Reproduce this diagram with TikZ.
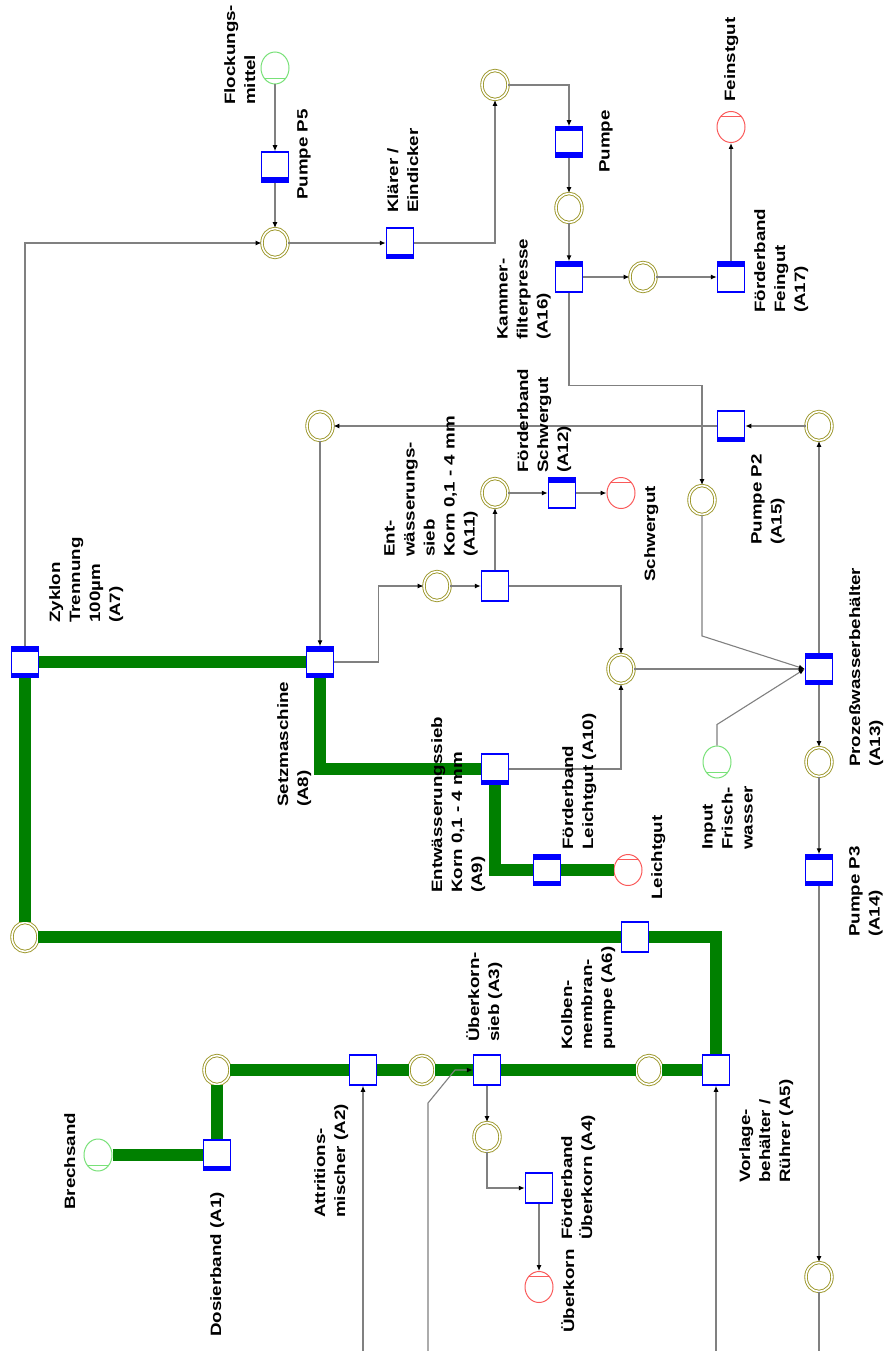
\documentclass[tikz,border=0pt]{standalone}
\usepackage{fontspec}
\setmainfont{Liberation Sans}[FakeStretch=1.25]
\usetikzlibrary{shapes.geometric,arrows.meta}
\definecolor{olv}{RGB}{155,150,40}
\definecolor{gin}{RGB}{120,225,120}
\definecolor{rout}{RGB}{250,90,90}
\definecolor{grn}{RGB}{0,128,0}
\definecolor{bl}{RGB}{0,0,255}
\definecolor{ln}{RGB}{128,128,128}
\begin{document}
\begin{tikzpicture}[x=1pt,y=-1pt,
  trans/.style={rectangle,draw=bl,line width=1.5pt,fill=white,minimum width=27pt,minimum height=30pt,inner sep=0pt},
  tb/.style={path picture={\fill[bl] (path picture bounding box.south west) rectangle ([yshift=4.5pt]path picture bounding box.south east);}},
  tt/.style={path picture={\fill[bl] (path picture bounding box.north west) rectangle ([yshift=-4.5pt]path picture bounding box.north east);}},
  tbt/.style={path picture={\fill[bl] (path picture bounding box.south west) rectangle ([yshift=4.5pt]path picture bounding box.south east);
      \fill[bl] (path picture bounding box.north west) rectangle ([yshift=-4.5pt]path picture bounding box.north east);}},
  place/.style={ellipse,draw=olv,double=white,double distance=1.6pt,line width=0.9pt,minimum width=26pt,minimum height=29pt,inner sep=0pt},
  inp/.style={ellipse,draw=gin,line width=1pt,fill=white,minimum width=28pt,minimum height=32pt,inner sep=0pt,
      path picture={\draw[gin,line width=0.8pt] ([yshift=6pt]path picture bounding box.south west) -- ([yshift=6pt]path picture bounding box.south east);}},
  outp/.style={ellipse,draw=rout,line width=1pt,fill=white,minimum width=28pt,minimum height=31pt,inner sep=0pt,
      path picture={\draw[rout,line width=0.8pt] ([yshift=-5pt]path picture bounding box.north west) -- ([yshift=-5pt]path picture bounding box.north east);}},
  flow/.style={draw=ln,line width=1.1pt,-{Latex[length=6pt,width=5pt,color=black]}},
  plain/.style={draw=ln,line width=1.1pt},
  gflow/.style={draw=grn,line width=12pt},
  lbl/.style={rotate=90,anchor=north west,align=left,inner sep=0pt,font=\bfseries\fontsize{15}{20}\selectfont}
]
\useasboundingbox (0,0) rectangle (888,1351);

% ---------- nodes ----------
\node[inp] (brech) at (98,1155) {};
\node[trans,tb] (A1) at (217,1155) {};
\node[place] (p1) at (217,1070) {};
\node[trans] (A2) at (363,1070) {};
\node[place] (p2) at (422,1070) {};
\node[trans] (A3) at (487,1070) {};
\node[place] (p3) at (649,1070) {};
\node[trans] (A5) at (716,1070) {};
\node[place] (p4) at (487,1137) {};
\node[trans] (A4) at (539,1188) {};
\node[outp] (uberk) at (539,1287) {};
\node[place] (p5) at (819,1277) {};
\node[trans] (A6) at (635,937) {};
\node[place] (p6) at (25,937) {};
\node[trans,tbt] (A7) at (25,662) {};
\node[trans,tbt] (A8) at (320,662) {};
\node[trans,tb] (A9) at (495,769) {};
\node[trans,tbt] (A10) at (547,870) {};
\node[outp] (leicht) at (628,870) {};
\node[place] (p7) at (437,586) {};
\node[trans] (A11) at (495,586) {};
\node[place] (p8) at (495,493) {};
\node[trans,tt] (A12) at (562,493) {};
\node[outp] (schwer) at (621,493) {};
\node[place] (p9) at (621,669) {};
\node[trans,tbt] (A13) at (819,669) {};
\node[inp] (frisch) at (717,762) {};
\node[place] (p10) at (819,762) {};
\node[trans,tbt] (A14) at (819,870) {};
\node[place] (p11) at (819,426) {};
\node[trans,tb] (A15) at (731,426) {};
\node[place] (p12) at (320,426) {};
\node[place] (p13) at (702,500) {};
\node[trans,tt] (A16) at (569,277) {};
\node[place] (p17) at (643,277) {};
\node[trans,tt] (A17) at (731,277) {};
\node[outp] (feinst) at (731,127) {};
\node[place] (p16) at (569,208) {};
\node[trans,tbt] (pump) at (569,142) {};
\node[place] (p15) at (495,85) {};
\node[trans,tb] (klaer) at (400,243) {};
\node[place] (p14) at (275,243) {};
\node[trans,tb] (P5) at (275,167) {};
\node[inp] (flock) at (275,68) {};

\coordinate (b1) at (363,1351);
\coordinate (b2) at (428,1351);
\coordinate (b3) at (716,1351);
\coordinate (b4) at (819,1351);

% ---------- green main flow ----------
\draw[gflow] (brech) -- (A1);
\draw[gflow] (A1) -- (p1);
\draw[gflow] (p1) -- (A2);
\draw[gflow] (A2) -- (p2);
\draw[gflow] (p2) -- (A3);
\draw[gflow] (A3) -- (p3);
\draw[gflow] (p3) -- (A5);
\draw[gflow] (A5.north) -- (A5.north |- A6.east) -- (A6.east);
\draw[gflow] (A6) -- (p6);
\draw[gflow] (p6) -- (A7);
\draw[gflow] (A7) -- (A8);
\draw[gflow] (A8.south) |- (A9.west);
\draw[gflow] (A9.south) |- (A10.west);
\draw[gflow] (A10) -- (leicht);

% ---------- grey connectors ----------
\draw[flow] (b1) -- (A2.south);
\draw[flow] (b2) -- ++(0,-248) -- ++(27,-33) -- (A3.west);
\draw[flow] (b3) -- (A5.south);
\draw[flow] (A14) -- (p5);
\draw[plain] (p5.south) -- (b4);
\draw[flow] (A3) -- (p4);
\draw[flow] (p4.south) |- (A4.west);
\draw[flow] (A4) -- (uberk);
\draw[flow] (A7.north) |- (p14.west);
\draw[flow] (p12) -- (A8);
\draw[flow] (A8.east) -- ++(44,0) |- (p7.west);
\draw[flow] (p7) -- (A11);
\draw[flow] (A11) -- (p8);
\draw[flow] (p8) -- (A12);
\draw[flow] (A12) -- (schwer);
\draw[flow] (A11.east) -| (p9.north);
\draw[flow] (A9.east) -| (p9.south);
\draw[flow] (p9) -- (A13);
\draw[flow] (frisch.north) -- ++(0,-21) -- (A13.west);
\draw[flow] (p13.south) -- ++(0,121) -- (A13.west);
\draw[flow] (A13) -- (p10);
\draw[flow] (p10) -- (A14);
\draw[flow] (A13) -- (p11);
\draw[flow] (p11) -- (A15);
\draw[flow] (A15) -- (p12);
\draw[flow] (A16.south) -- ++(0,93) -| (p13.north);
\draw[flow] (A16) -- (p17);
\draw[flow] (p17) -- (A17);
\draw[flow] (A17) -- (feinst);
\draw[flow] (pump) -- (p16);
\draw[flow] (p16) -- (A16);
\draw[flow] (p15.east) -| (pump.north);
\draw[flow] (klaer.east) -| (p15.south);
\draw[flow] (p14) -- (klaer);
\draw[flow] (flock) -- (P5);
\draw[flow] (P5) -- (p14);

% ---------- labels ----------
\node[lbl] (tBrech) at (64,1210) {Brechsand};
\node[lbl] (tA1) at (210,1337) {Dosierband (A1)};
\node[lbl] (tA2) at (314,1218) {Attritions-\\mischer (A2)};
\node[lbl] (tA3) at (466,1042) {Überkorn-\\sieb (A3)};
\node[lbl] (tA6) at (561,1050) {Kolben-\\membran-\\pumpe (A6)};
\node[lbl] (tA4) at (561,1240) {Förderband\\Überkorn (A4)};
\node[lbl] (tUk) at (561,1333) {Überkorn};
\node[lbl] (tA5) at (739,1183) {Vorlage-\\behälter /\\Rührer (A5)};
\node[lbl] (tA8) at (277,807) {Setzmaschine\\(A8)};
\node[lbl] (tA7) at (49,623) {Zyklon\\Trennung\\100µm\\(A7)};
\node[lbl] (tA9) at (431,893) {Entwässerungssieb\\Korn 0,1 - 4 mm\\(A9)};
\node[lbl] (tA10) at (562,850) {Förderband\\Leichtgut (A10)};
\node[lbl] (tLg) at (651,900) {Leichtgut};
\node[lbl] (tFw) at (702,850) {Input\\Frisch-\\wasser};
\node[lbl] (tA13) at (849,767) {Prozeßwasserbehälter\\(A13)};
\node[lbl] (tA14) at (849,937) {Pumpe P3\\(A14)};
\node[lbl] (tA11) at (384,557) {Ent-\\wässerungs-\\sieb\\Korn 0,1 - 4 mm\\(A11)};
\node[lbl] (tA12) at (517,473) {Förderband\\Schwergut\\(A12)};
\node[lbl] (tSg) at (644,582) {Schwergut};
\node[lbl] (tA15) at (751,545) {Pumpe P2\\(A15)};
\node[lbl] (tFl) at (224,105) {Flockungs-\\mittel};
\node[lbl] (tP5) at (297,200) {Pumpe P5};
\node[lbl] (tKl) at (387,213) {Klärer /\\Eindicker};
\node[lbl] (tA16) at (497,340) {Kammer-\\filterpresse\\(A16)};
\node[lbl] (tPu) at (599,173) {Pumpe};
\node[lbl] (tFs) at (724,102) {Feinstgut};
\node[lbl] (tA17) at (754,313) {Förderband\\Feingut\\(A17)};
\end{tikzpicture}
\end{document}
